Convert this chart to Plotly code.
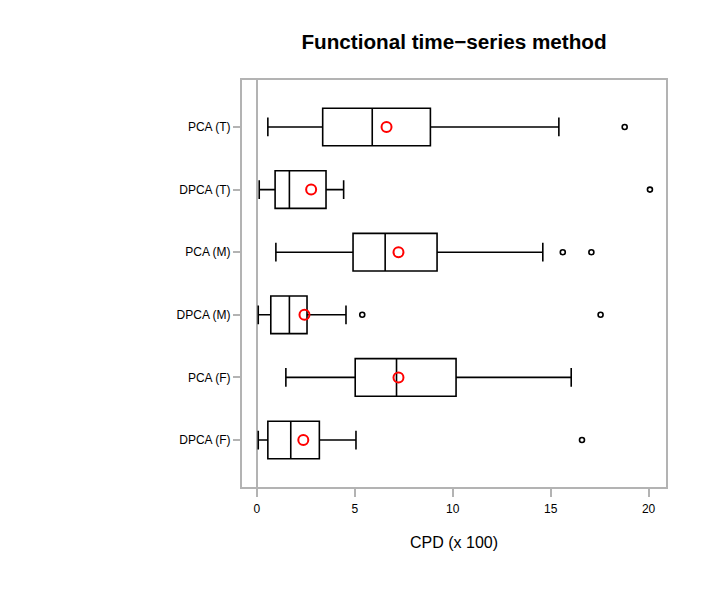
import plotly.graph_objects as go

categories = ["DPCA (F)", "PCA (F)", "DPCA (M)", "PCA (M)", "DPCA (T)", "PCA (T)"]
lower = [0.07, 1.48, 0.07, 0.97, 0.12, 0.56]
q1 = [0.56, 5.02, 0.71, 4.91, 0.93, 3.36]
median = [1.73, 7.13, 1.66, 6.55, 1.66, 5.89]
q3 = [3.19, 10.17, 2.56, 9.20, 3.53, 8.86]
upper = [5.06, 16.05, 4.55, 14.60, 4.43, 15.42]
means = [2.37, 7.23, 2.43, 7.23, 2.77, 6.62]
outlier_cat = ["DPCA (F)", "DPCA (M)", "DPCA (M)", "PCA (M)", "PCA (M)", "DPCA (T)", "PCA (T)"]
outlier_val = [16.6, 5.38, 17.55, 15.62, 17.08, 20.07, 18.78]
x_ticks = [0, 5, 10, 15, 20]

FONT = "Liberation Sans, Arial, Helvetica, sans-serif"
GREY = "#b3b3b3"

fig = go.Figure()
fig.add_trace(go.Box(
    y=categories, q1=q1, median=median, q3=q3,
    lowerfence=lower, upperfence=upper,
    orientation="h", width=0.6, whiskerwidth=0.5,
    fillcolor="rgba(0,0,0,0)", line=dict(color="black", width=1.6),
    boxpoints=False, showlegend=False, hoverinfo="skip",
))
fig.add_trace(go.Scatter(
    x=outlier_val, y=outlier_cat, mode="markers",
    marker=dict(symbol="circle-open", size=5, color="black", line=dict(width=1.6)),
    showlegend=False, hoverinfo="skip",
))
fig.add_trace(go.Scatter(
    x=means, y=categories, mode="markers",
    marker=dict(symbol="circle-open", size=10, color="red", line=dict(width=2)),
    showlegend=False, hoverinfo="skip",
))

fig.update_layout(
    width=709, height=590,
    margin=dict(l=242, r=43, t=80, b=103),
    plot_bgcolor="white", paper_bgcolor="white",
    font=dict(family=FONT, size=12, color="black"),
    title=dict(text="<b>Functional time\u2212series method</b>", x=(242 + 666) / 2 / 709,
               xanchor="center", y=1 - 42 / 590, yanchor="middle",
               font=dict(family=FONT, size=20.7, color="black")),
    xaxis=dict(range=[-0.76, 20.89], tickvals=x_ticks, showgrid=False,
               zeroline=True, zerolinecolor=GREY, zerolinewidth=2,
               showline=True, mirror=True, linecolor=GREY, linewidth=2,
               ticks="outside", ticklen=8, tickcolor=GREY, tickwidth=1.5,
               ticklabelstandoff=2,
               title=dict(text="CPD (x 100)", font=dict(size=16), standoff=21)),
    yaxis=dict(type="category", categoryorder="array", categoryarray=categories,
               range=[-0.75, 5.75], showgrid=False, zeroline=False,
               showline=True, mirror=True, linecolor=GREY, linewidth=2,
               ticks="outside", ticklen=7, tickcolor=GREY, tickwidth=1.5),
)

fig.write_html("out.html")
